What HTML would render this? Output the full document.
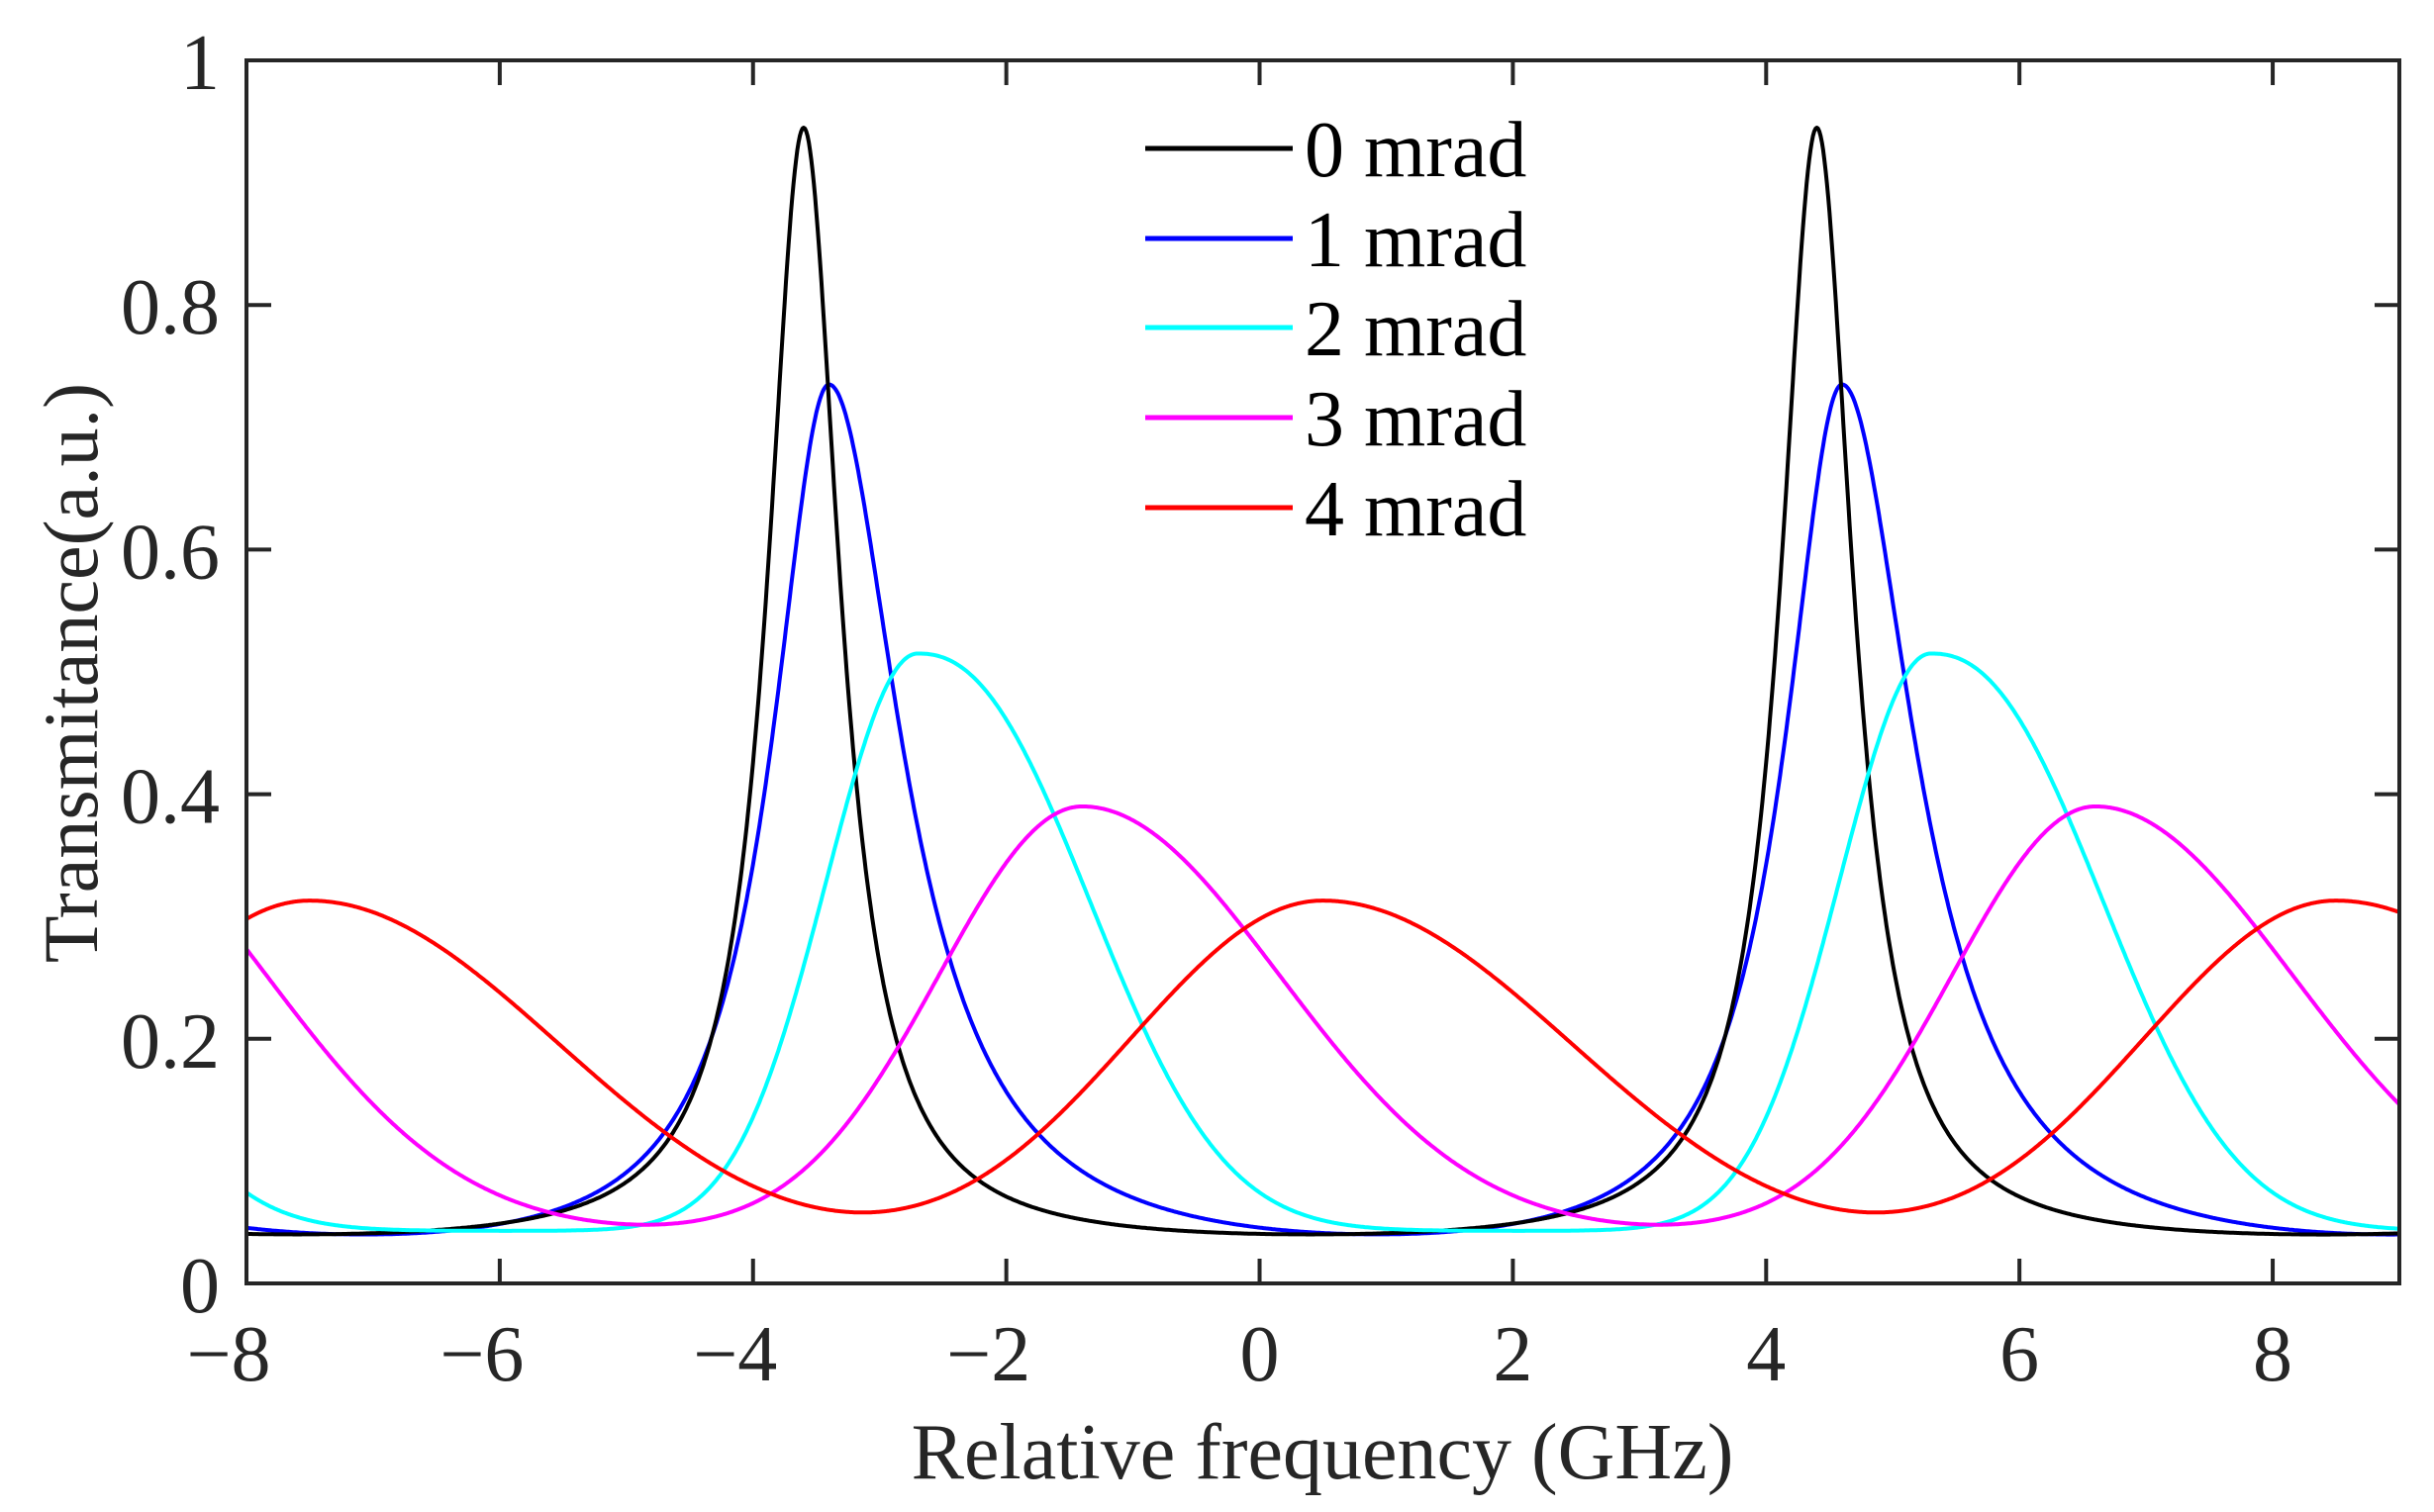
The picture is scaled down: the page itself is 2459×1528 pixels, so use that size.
<!DOCTYPE html>
<html><head><meta charset="utf-8"><style>
html,body{margin:0;padding:0;background:#fff;}
svg{display:block;}
text{font-family:"Liberation Serif",serif;fill:#262626;}
</style></head><body>
<svg id="s" width="2459" height="1528" viewBox="0 0 2459 1528" xmlns="http://www.w3.org/2000/svg">
<g id="curves" fill="none" stroke-width="4" stroke-linejoin="round"></g>
<rect x="249" y="61" width="2175" height="1236" fill="none" stroke="#262626" stroke-width="4"/>
<g id="ticks" stroke="#262626" stroke-width="4"></g>
<g id="labels" font-size="80"></g>
<g font-size="80">
<line x1="1157" y1="150" x2="1306" y2="150" stroke="#000" stroke-width="5"/>
<line x1="1157" y1="241" x2="1306" y2="241" stroke="#0000ff" stroke-width="5"/>
<line x1="1157" y1="331" x2="1306" y2="331" stroke="#00ffff" stroke-width="5"/>
<line x1="1157" y1="422" x2="1306" y2="422" stroke="#ff00ff" stroke-width="5"/>
<line x1="1157" y1="513" x2="1306" y2="513" stroke="#ff0000" stroke-width="5"/>
<text x="1318" y="178" style="fill:#000">0 mrad</text>
<text x="1318" y="269" style="fill:#000">1 mrad</text>
<text x="1318" y="359" style="fill:#000">2 mrad</text>
<text x="1318" y="450" style="fill:#000">3 mrad</text>
<text x="1318" y="541" style="fill:#000">4 mrad</text>
</g>
<text font-size="78" transform="translate(98,680) rotate(-90)" text-anchor="middle">Transmitance(a.u.)</text>
<text font-size="80" x="1336" y="1494" text-anchor="middle">Relative frequency (GHz)</text>
</svg>
<script>
var L=249,T=61,R=2424,B=1297;
function X(v){return L+(v+8)*(R-L)/17;}
function Y(v){return B-v*(B-T);}
var ns="http://www.w3.org/2000/svg";
var series=[
 {c:"#0000ff",x0:-3.4,p:0.735,m:0.04,t:"L",wl:0.55,wr:0.7},
 {c:"#000000",x0:-3.6,p:0.945,m:0.04,t:"L",wl:0.35,wr:0.35},
 {c:"#00ffff",x0:-2.7,p:0.515,m:0.043,t:"G",wl:1.02,pl:2,wr:1.75,pr:2.3},
 {c:"#ff00ff",x0:-1.4,p:0.39,m:0.048,t:"G",wl:1.6,pl:2,wr:2.2,pr:2},
 {c:"#ff0000",x0:0.5,p:0.313,m:0.058,t:"G",wl:2.2,pl:2,wr:2.8,pr:2}
];
function f(s,d){
 if(s.t=="L"){var w=d<0?s.wl:s.wr;var z=d/w;return 1/(1+z*z);}
 var a=d<0?s.wl:s.wr, q=d<0?s.pl:s.pr;
 return Math.exp(-Math.pow(Math.abs(d)/a,q));
}
function S(s,x){var t=0;for(var k=-4;k<=4;k++)t+=f(s,x-s.x0-8*k);return t;}
var g=document.getElementById("curves");
series.forEach(function(s){
 var N=1700,xs=[],vs=[],mn=1e9;
 for(var i=0;i<=N;i++){var x=-8+i*17/N;var v=S(s,x);xs.push(x);vs.push(v);if(v<mn)mn=v;}
 var mx=S(s,s.x0);
 var d="";
 for(var i=0;i<=N;i++){
  var v=s.m+(s.p-s.m)*(vs[i]-mn)/(mx-mn);
  d+=(i?"L":"M")+X(xs[i]).toFixed(1)+" "+Y(v).toFixed(1);
 }
 var p=document.createElementNS(ns,"path");
 p.setAttribute("d",d);p.setAttribute("stroke",s.c);g.appendChild(p);
});
var tk=document.getElementById("ticks"),lb=document.getElementById("labels");
function line(a,b,c,d){var l=document.createElementNS(ns,"line");l.setAttribute("x1",a);l.setAttribute("y1",b);l.setAttribute("x2",c);l.setAttribute("y2",d);tk.appendChild(l);}
function txt(x,y,t,anc){var e=document.createElementNS(ns,"text");e.setAttribute("x",x);e.setAttribute("y",y);e.setAttribute("text-anchor",anc);e.textContent=t;lb.appendChild(e);}
for(var v=-8;v<=8;v+=2){var x=X(v);line(x,B,x,B-25);line(x,T,x,T+25);txt(x-(v<0?18:0),1395,(v<0?"\u2212":"")+Math.abs(v),"middle");}
[0,0.2,0.4,0.6,0.8,1].forEach(function(v){var y=Y(v);line(L,y,L+25,y);line(R,y,R-25,y);txt(222,y+29,v==0?"0":v==1?"1":v.toFixed(1),"end");});
</script>
</body></html>
